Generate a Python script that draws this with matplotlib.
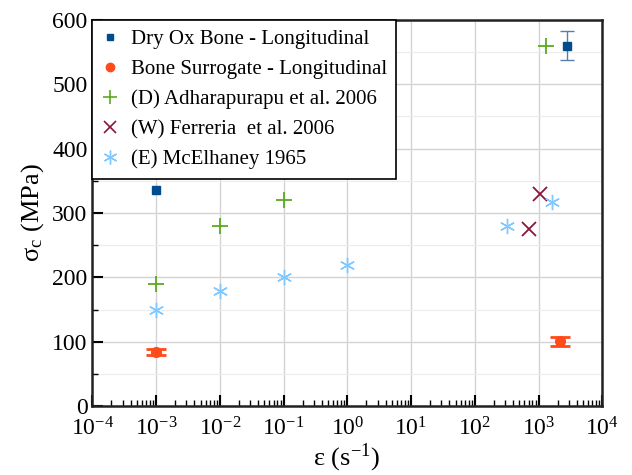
import numpy as np
import matplotlib.pyplot as plt
from matplotlib.ticker import LogLocator, MultipleLocator
from matplotlib.lines import Line2D

plt.rcParams['font.family'] = ['Liberation Serif', 'DejaVu Serif']
plt.rcParams['mathtext.fontset'] = 'stix'

# Dry ox bone
dry_x = [1e-3, 2.8e3]
dry_y = [336, 560]
dry_err = [0, 23]

# Bone surrogate
sur_x = [1e-3, 2.2e3]
sur_y = [84, 101]
sur_err = [5, 7]

# literature
adh_x = [1e-3, 1e-2, 1e-1, 1.3e3]
adh_y = [190, 280, 320, 560]
fer_x = [720, 1.05e3]
fer_y = [275, 330]
mce_x = [1e-3, 1e-2, 1e-1, 1.0, 320, 1.6e3]
mce_y = [150, 179, 200, 220, 280, 317]

c_dry = '#004C8F'
c_sur = '#FF4A1A'
c_adh = '#5BAA1E'
c_fer = '#8B1538'
c_mce = '#80C8FF'
star = (6, 2, 0)

fig = plt.figure(figsize=(6.32, 4.75), dpi=100)
ax = fig.add_axes([0.146, 0.145, 0.807, 0.813])

ax.plot(dry_x[:1], dry_y[:1], 's', color=c_dry, ms=6, zorder=5)
ax.errorbar(dry_x[1:], dry_y[1:], yerr=dry_err[1:], fmt='s', color=c_dry, ms=6,
            ecolor='#5580aa', elinewidth=1, capsize=5, zorder=5)
ax.errorbar(sur_x, sur_y, yerr=sur_err, fmt='o', color=c_sur, ms=7,
            ecolor=c_sur, elinewidth=1, capsize=7, capthick=2, zorder=5)
ax.plot(adh_x, adh_y, '+', color=c_adh, ms=11, mew=1.3, ls='none')
ax.plot(fer_x, fer_y, 'x', color=c_fer, ms=10, mew=1.3, ls='none')
ax.plot(mce_x, mce_y, ls='none', color=c_mce, ms=11, mew=1, marker=star)

ax.set_xscale('log')
ax.set_xlim(1e-4, 1e4)
ax.set_ylim(0, 600)
ax.yaxis.set_major_locator(MultipleLocator(100))
ax.yaxis.set_minor_locator(MultipleLocator(50))
ax.xaxis.set_major_locator(LogLocator(base=10, numticks=20))
ax.xaxis.set_minor_locator(LogLocator(base=10, subs=np.arange(2, 10), numticks=20))

ax.grid(True, which='major', color='#d3d3d3', lw=1)
ax.grid(True, which='minor', axis='y', color='#ececec', lw=0.8)
ax.set_axisbelow(True)

ax.tick_params(which='both', direction='in', labelsize=17, top=False, right=False)
ax.tick_params(which='major', length=8, width=1.5)
ax.tick_params(which='minor', length=4, width=1)
ax.tick_params(axis='x', pad=8)
for s in ax.spines.values():
    s.set_linewidth(1.8)
    s.set_color('#222222')

ax.set_xlabel(r'ε (s$^{\mathregular{-1}}$)', fontsize=19, labelpad=1)
ax.set_ylabel(r'σ$_\mathregular{c}$ (MPa)', fontsize=19, labelpad=4)

handles = [
    Line2D([], [], ls='none', marker='s', color=c_dry, ms=5),
    Line2D([], [], ls='none', marker='o', color=c_sur, ms=6),
    Line2D([], [], ls='none', marker='+', color=c_adh, ms=10, mew=1.2),
    Line2D([], [], ls='none', marker='x', color=c_fer, ms=9, mew=1.2),
    Line2D([], [], ls='none', marker=star, color=c_mce, ms=10, mew=1),
]
labels = ['Dry Ox Bone - Longitudinal', 'Bone Surrogate - Longitudinal',
          '(D) Adharapurapu et al. 2006', '(W) Ferreria  et al. 2006', '(E) McElhaney 1965']
leg = ax.legend(handles, labels, loc='upper left', fontsize=15, frameon=True, fancybox=False,
                edgecolor='black', framealpha=1, borderaxespad=0, handletextpad=0.6,
                labelspacing=0.5, borderpad=0.45, handlelength=0.8)
leg.get_frame().set_linewidth(1.2)

fig.savefig('out.png', dpi=100)
